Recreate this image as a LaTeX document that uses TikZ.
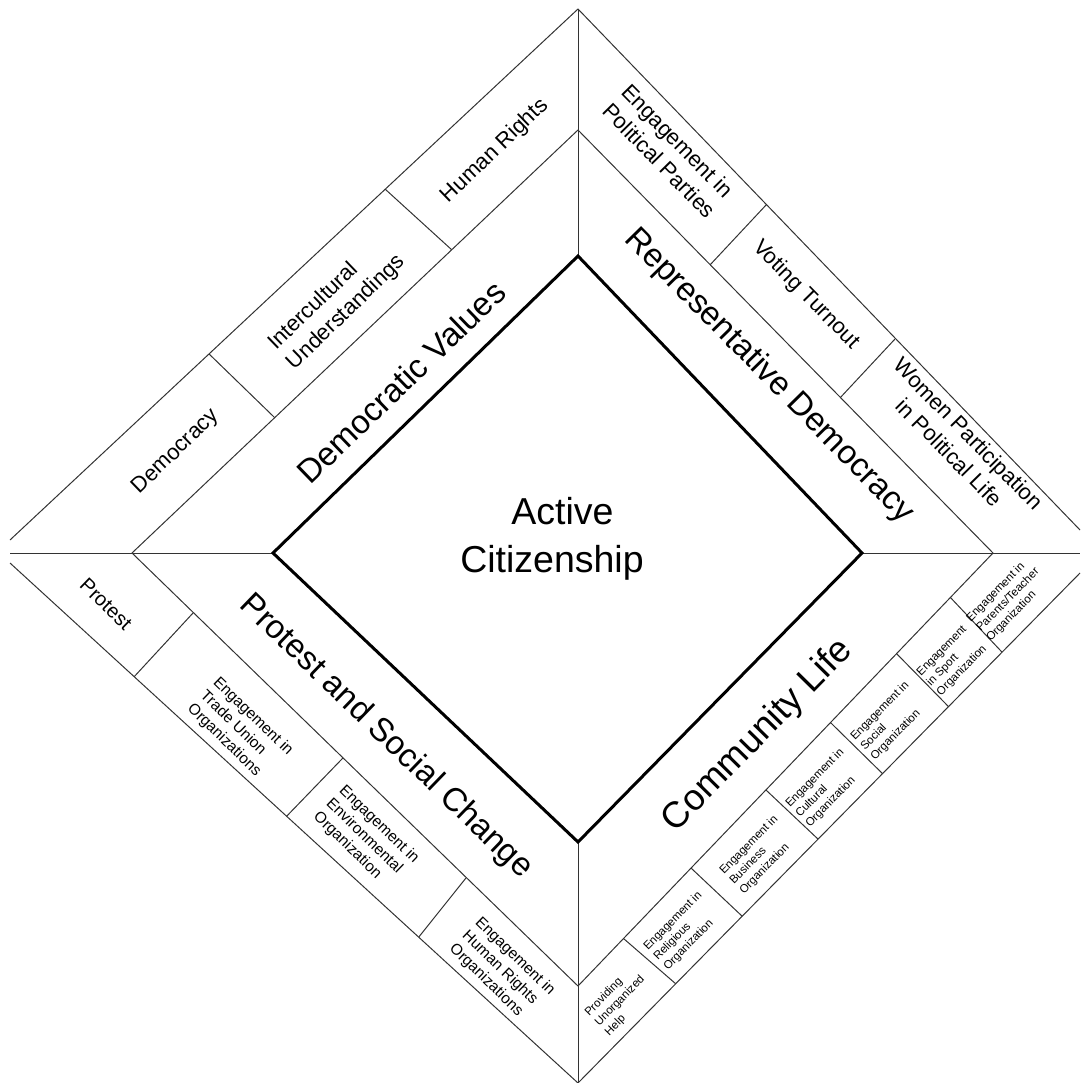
\documentclass[tikz,border=0pt]{standalone}
\usepackage{fontspec}
\setmainfont{Liberation Sans}
\usetikzlibrary{calc}

\tikzset{
  frame/.style={black!80, line width=1pt},
  core/.style={black, line width=3pt, line join=miter},
  hub/.style={font=\fontsize{37.5}{48}\selectfont, inner sep=0pt, align=center},
  theme/.style={font=\fontsize{33}{40}\selectfont, inner sep=0pt},
  item/.style={font=\fontsize{22}{27}\selectfont, inner sep=0pt, align=left},
  small/.style={font=\fontsize{15.5}{18.5}\selectfont, inner sep=0pt, align=left},
  tiny/.style={font=\fontsize{11.5}{14}\selectfont, inner sep=0pt, align=left},
}

\begin{document}
\begin{tikzpicture}[x=1pt, y=-1pt]
	  \useasboundingbox (0,0) rectangle (1080,1083);
	  % corners of the three squares
	  \coordinate (ot) at (578,9);
	  \coordinate (ob) at (578,1083);
	  \coordinate (otl) at (10,540);
	  \coordinate (obl) at (10,563);
	  \coordinate (otr) at (1080,530);
	  \coordinate (obr) at (1080,573);
	  \coordinate (mt) at (578,130);
	  \coordinate (mr) at (993,553);
	  \coordinate (mb) at (578,986);
	  \coordinate (ml) at (132,553);
	  \coordinate (it) at (578,256);
	  \coordinate (ir) at (862,553);
	  \coordinate (ib) at (578,842);
	  \coordinate (il) at (273,553);
	  \coordinate (hl) at (10,553);
	  \coordinate (hr) at (1080,553);
	  % outer and middle lines
	  \draw[frame] (otl) -- (ot) -- (otr);
	  \draw[frame] (obl) -- (ob) -- (obr);
	  \draw[frame] (ml) -- (mt) -- (mr) -- (mb) -- cycle;
	  \draw[frame] (hl) -- (il);
	  \draw[frame] (ir) -- (hr);
	  \draw[frame] (ot) -- (it);
	  \draw[frame] (ib) -- (ob);
	  % cell borders
	  \draw[frame] ($(ot)!(385,189)!(otl)$) -- ($(mt)!(450,248)!(ml)$);
	  \draw[frame] ($(ot)!(210,355)!(otl)$) -- ($(mt)!(274,417)!(ml)$);
	  \draw[frame] ($(ot)!(765,206)!(otr)$) -- ($(mt)!(712,263)!(mr)$);
	  \draw[frame] ($(ot)!(896,338)!(otr)$) -- ($(mt)!(843,395)!(mr)$);
	  \draw[frame] ($(ml)!(193,613)!(mb)$) -- ($(obl)!(133,678)!(ob)$);
	  \draw[frame] ($(ml)!(341,760)!(mb)$) -- ($(obl)!(286,817)!(ob)$);
	  \draw[frame] ($(ml)!(464,880)!(mb)$) -- ($(obl)!(418,938)!(ob)$);
	  \draw[frame] ($(mb)!(623,938)!(mr)$) -- ($(ob)!(677,985)!(obr)$);
	  \draw[frame] ($(mb)!(691,868)!(mr)$) -- ($(ob)!(743,917)!(obr)$);
	  \draw[frame] ($(mb)!(766,790)!(mr)$) -- ($(ob)!(819,840)!(obr)$);
	  \draw[frame] ($(mb)!(831,723)!(mr)$) -- ($(ob)!(884,775)!(obr)$);
	  \draw[frame] ($(mb)!(897,654)!(mr)$) -- ($(ob)!(949,707)!(obr)$);
	  \draw[frame] ($(mb)!(951,598)!(mr)$) -- ($(ob)!(1003,653)!(obr)$);
	  \draw[core] (it) -- (ir) -- (ib) -- (il) -- cycle;
	  % centre and themes
	  \node[hub] (active) at (552,539) {\hspace*{21pt}Active\\Citizenship};
	  \node[theme, rotate=44] (values) at (401,382) {Democratic Values};
	  \node[theme, rotate=-45.5] (represent) at (769,376) {Representative Democracy};
	  \node[theme, rotate=-44] (change) at (386,737) {Protest and Social Change};
	  \node[theme, rotate=45.5, font=\fontsize{36.5}{40}\selectfont] (community) at (758,736) {Community Life};
	  % democratic values
	  \node[item, rotate=44] (rights) at (495,151) {Human Rights};
	  \node[item, rotate=44] (intercult) at (337,303) {Intercultural\\Understandings};
	  \node[item, rotate=44] (democracy) at (176,452) {Democracy};
	  % representative democracy
	  \node[item, rotate=-45.5] (parties) at (669,151) {Engagement in\\Political Parties};
	  \node[item, rotate=-45.5] (voting) at (806,295) {Voting Turnout};
	  \node[item, rotate=-45.5, align=center] (women) at (959,443) {Women Participation\\in Political Life};
	  % protest and social change
	  \node[item, rotate=-44, font=\fontsize{20}{24}\selectfont] (protest) at (106,604) {Protest};
	  \node[small, rotate=-44] (union) at (240,730) {Engagement in\\Trade Union\\Organizations};
	  \node[small, rotate=-44] (environ) at (366,838) {Engagement in\\Environmental\\Organization};
	  \node[small, rotate=-44] (hrorg) at (502,970) {Engagement in\\Human Rights\\Organizations};
	  % community life
	  \node[tiny, rotate=45.5] (help) at (620,1001) {Providing\\Unorganized\\Help};
	  \node[tiny, rotate=45.5] (religious) at (683,931) {Engagement in\\Religious\\Organization};
	  \node[tiny, rotate=45.5] (business) at (759,855) {Engagement in\\Business\\Organization};
	  \node[tiny, rotate=45.5] (cultural) at (825,788) {Engagement in\\Cultural\\Organization};
	  \node[tiny, rotate=45.5] (social) at (890,721) {Engagement in\\Social\\Organization};
	  \node[tiny, rotate=45.5] (sport) at (952,661) {Engagement\\in Sport\\Organization};
	  \node[tiny, rotate=45.5] (parents) at (1008,600) {Engagement in\\Parents/Teacher\\Organization};
	\end{tikzpicture}
\end{document}
